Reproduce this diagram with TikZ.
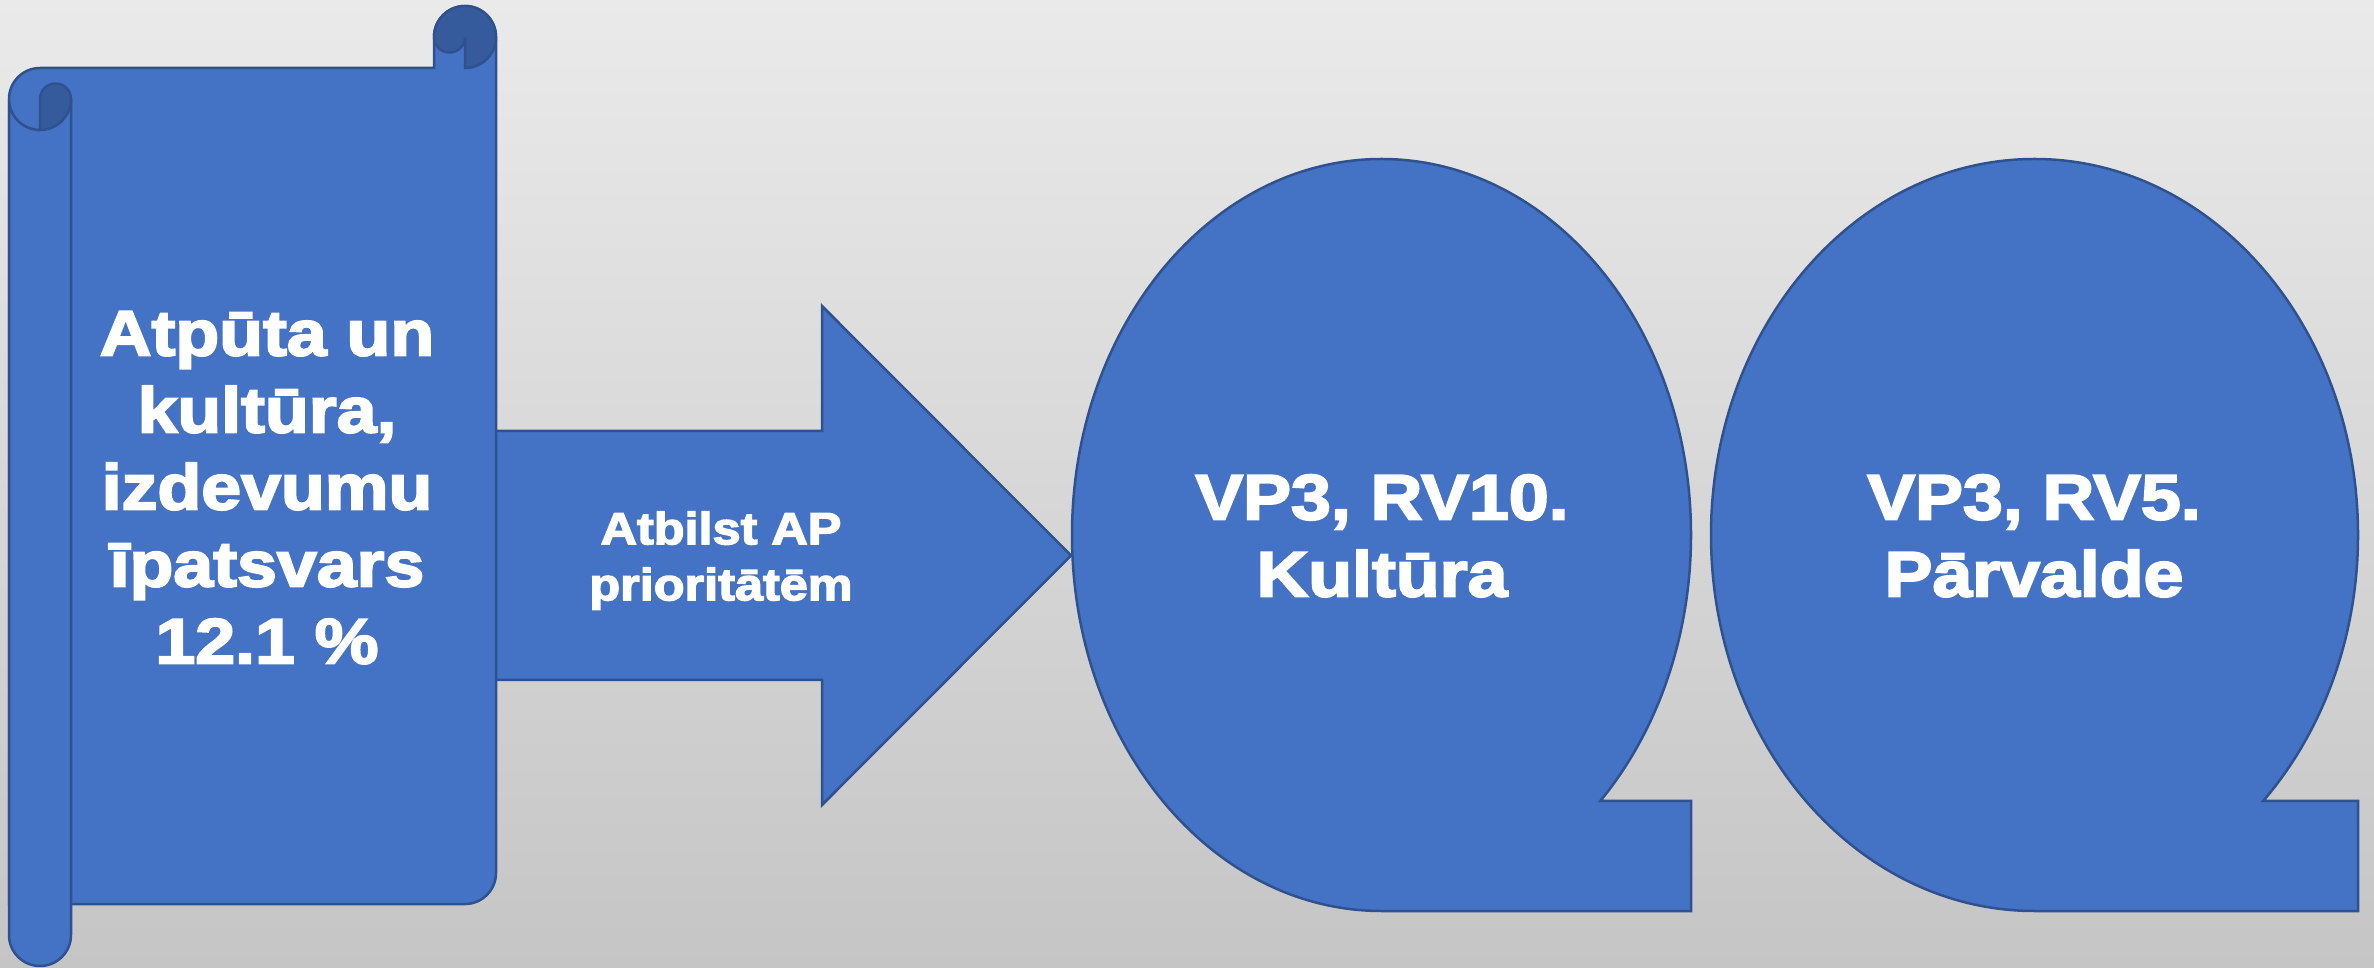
\documentclass[tikz,border=0pt]{standalone}
\usepackage{fontspec}
\setmainfont{Liberation Sans}[BoldFeatures={FakeStretch=1.12,FakeBold=3.2}]
\definecolor{fillblue}{HTML}{4472C4}
\definecolor{lineblue}{HTML}{2F528F}
\definecolor{darkblue}{HTML}{365B9D}
\definecolor{bgtop}{HTML}{EAEAEA}
\definecolor{bgbot}{HTML}{C5C5C5}
\tikzset{
  shapebox/.style={fill=fillblue, draw=lineblue, line width=2.5pt, line join=miter},
  curlpart/.style={fill=darkblue, draw=lineblue, line width=2.5pt},
  outlineonly/.style={draw=lineblue, line width=2.5pt},
  bigtext/.style={text=white, align=center, inner sep=0pt, font=\bfseries\fontsize{64}{77}\selectfont},
  arrowtext/.style={text=white, align=center, inner sep=0pt, font=\bfseries\fontsize{45}{56}\selectfont},
}
\begin{document}
\begin{tikzpicture}[x=1pt,y=1pt]
\useasboundingbox (0,0) rectangle (2374,967);
\shade[top color=bgtop, bottom color=bgbot] (0,0) rectangle (2374,967);

% block arrow
\draw[shapebox] (470,536) -- (822,536) -- (822,661) -- (1071,411.5) -- (822,162) -- (822,287) -- (470,287) -- cycle;
\node[arrowtext] (arrowlabel) at (721,406) {\strut Atbilst AP\\prioritātēm\strut};

% scroll: main body
\draw[shapebox] (9,868) arc[start angle=180, end angle=90, radius=31]
  -- (434,899) -- (434,930) arc[start angle=180, end angle=0, radius=31]
  -- (496,94) arc[start angle=0, end angle=-90, radius=31]
  -- (9,63) -- cycle;
% top right roll
\draw[curlpart] (434,930) arc[start angle=180, end angle=0, radius=31]
  arc[start angle=0, end angle=-90, radius=31]
  -- (465,930) arc[start angle=0, end angle=-180, radius=15.5] -- cycle;
% left roll
\fill[fillblue] (71,868) -- (71,32) arc[start angle=0, end angle=-180, radius=31] -- (9,868) -- cycle;
\draw[outlineonly] (71,868) -- (71,32) arc[start angle=0, end angle=-180, radius=31] -- (9,868)
  arc[start angle=180, end angle=270, radius=31];
\draw[curlpart] (40,837) -- (40,868) arc[start angle=180, end angle=0, radius=15.5]
  arc[start angle=0, end angle=-90, radius=31] -- cycle;
\node[bigtext] (scrolltext) at (267,473) {\strut Atpūta un\\kultūra,\\izdevumu\\īpatsvars\\12.1 \%\strut};

% sequential access storage shapes
\draw[shapebox] (1381.5,56) arc[start angle=-90, end angle=-405, x radius=309.5, y radius=376]
  -- (1691,166.1) -- (1691,56) -- cycle;
\node[bigtext] (tape1) at (1382,424.5) {\strut VP3, RV10.\\Kultūra\strut};

\draw[shapebox] (2034.5,56) arc[start angle=-90, end angle=-405, x radius=323.5, y radius=376]
  -- (2358,166.1) -- (2358,56) -- cycle;
\node[bigtext] (tape2) at (2034,424.5) {\strut VP3, RV5.\\Pārvalde\strut};
\end{tikzpicture}
\end{document}
